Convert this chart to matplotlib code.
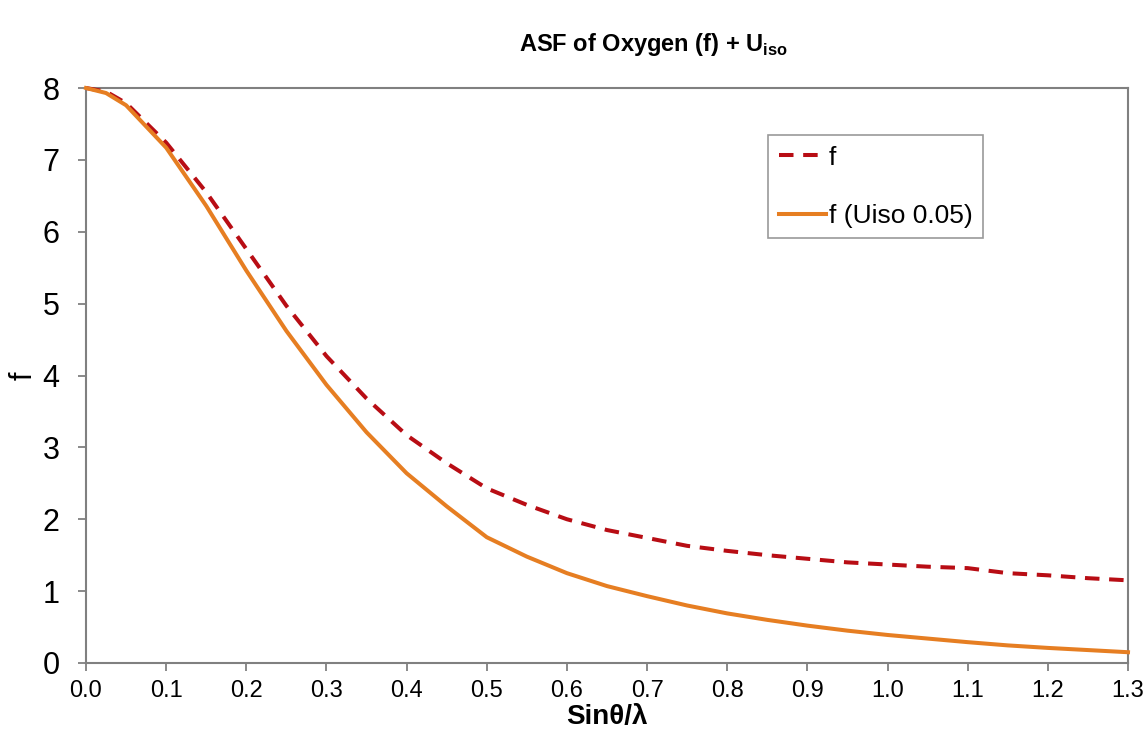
import matplotlib
matplotlib.use("Agg")
import matplotlib.pyplot as plt

plt.rcParams['font.family'] = ['Liberation Sans', 'DejaVu Sans']
plt.rcParams['mathtext.fontset'] = 'custom'
plt.rcParams['mathtext.rm'] = 'Liberation Sans'
plt.rcParams['mathtext.bf'] = 'Liberation Sans:bold'

# values
s_values = [0.0, 0.025, 0.05, 0.1, 0.15, 0.2, 0.25, 0.3, 0.35, 0.4, 0.45,
            0.5, 0.55, 0.6, 0.65, 0.7, 0.75, 0.8, 0.85, 0.9, 0.95,
            1.0, 1.05, 1.1, 1.15, 1.2, 1.25, 1.3]
f_plain = [8.0, 7.95, 7.79, 7.24, 6.55, 5.76, 4.97, 4.27, 3.68, 3.17, 2.78,
           2.43, 2.20, 2.00, 1.85, 1.74, 1.63, 1.56, 1.50, 1.45, 1.40,
           1.37, 1.34, 1.32, 1.25, 1.22, 1.18, 1.15]
f_uiso = [8.0, 7.93, 7.76, 7.17, 6.36, 5.46, 4.62, 3.87, 3.21, 2.64, 2.18,
          1.75, 1.48, 1.25, 1.07, 0.93, 0.80, 0.69, 0.60, 0.52, 0.45,
          0.39, 0.34, 0.29, 0.245, 0.21, 0.18, 0.15]

x_ticks = [0.0, 0.1, 0.2, 0.3, 0.4, 0.5, 0.6, 0.7, 0.8, 0.9, 1.0, 1.1, 1.2, 1.3]
y_ticks = [0, 1, 2, 3, 4, 5, 6, 7, 8]

W, H = 1146, 730
fig = plt.figure(figsize=(W / 100, H / 100), dpi=100)
ax = fig.add_axes([86 / W, 1 - 663 / H, (1128 - 86) / W, (663 - 88) / H])

ax.plot(s_values, f_plain, color='#B80D14', lw=2.9, dashes=(3.6, 2.4),
        label='f', clip_on=False, zorder=3)
ax.plot(s_values, f_uiso, color='#E67E22', lw=2.9,
        label='f (Uiso 0.05)', clip_on=False, zorder=4)

ax.set_xlim(0, 1.3)
ax.set_ylim(0, 8)
ax.set_xticks(x_ticks)
ax.set_xticklabels([f"{v:.1f}" for v in x_ticks])
ax.set_yticks(y_ticks)

gray = '#808080'
for sp in ax.spines.values():
    sp.set_color(gray)
    sp.set_linewidth(1.5)
ax.tick_params(axis='both', direction='out', length=6, width=1.3, color=gray)
ax.tick_params(axis='x', labelsize=17, pad=6)
ax.tick_params(axis='y', labelsize=22, pad=13)

ax.set_xlabel('Sinθ/λ', fontsize=20, fontweight='bold', labelpad=2)
ax.set_ylabel('f', fontsize=22, labelpad=3)

fig.text(653 / W, 1 - 45 / H, r'ASF of Oxygen (f) + U$_\mathbf{iso}$',
         fontsize=17, fontweight='bold', ha='center', va='center')

leg = ax.legend(loc='upper left', bbox_to_anchor=(768 / W, 1 - 135 / H),
                bbox_transform=fig.transFigure, fontsize=19, frameon=True,
                fancybox=False, borderaxespad=0, borderpad=0.4,
                handlelength=1.8, handletextpad=0.1, labelspacing=1.3)
leg.get_frame().set_edgecolor(gray)
leg.get_frame().set_linewidth(1.2)

fig.savefig('out.png', dpi=100)
